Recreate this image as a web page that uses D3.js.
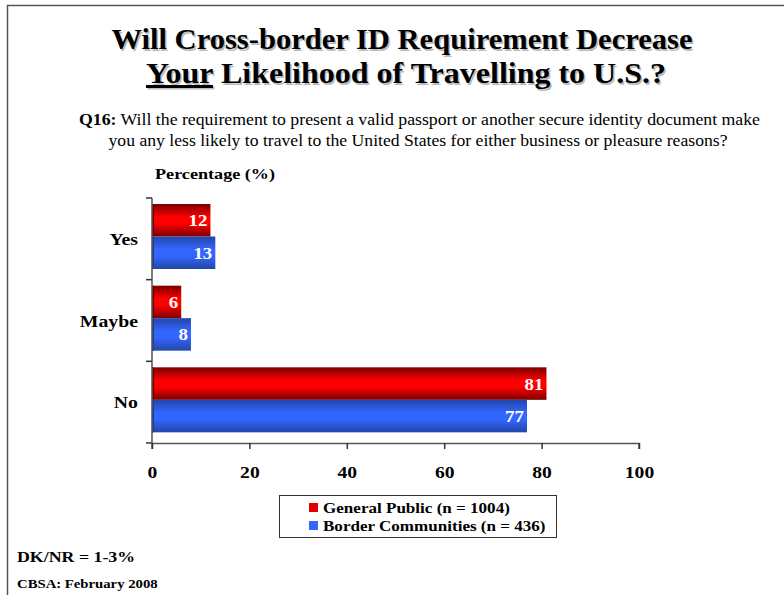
<!DOCTYPE html>
<html>
<head>
<meta charset="utf-8">
<script src="https://cdn.jsdelivr.net/npm/d3@7"></script>
<style>
  body { margin: 0; background: #fff; }
  svg { font-family: "Liberation Serif", "Times New Roman", serif; }
</style>
</head>
<body>
<div id="chart"></div>
<script>
const categories = ['Yes', 'Maybe', 'No']
const seriesNames = ['General Public (n = 1004)', 'Border Communities (n = 436)']
const generalPublic = [12, 6, 81]
const borderCommunities = [13, 8, 77]
const xTicks = [0, 20, 40, 60, 80, 100]

const width = 784
const height = 595

const svg = d3.select('#chart')
  .append('svg')
  .attr('width', width)
  .attr('height', height)

// the original is a slightly widened Times, so stretch text sideways
const stretch = (sel, k) => {
  sel.each(function () {
    const len = this.getComputedTextLength()
    d3.select(this).attr('textLength', len * k).attr('lengthAdjust', 'spacingAndGlyphs')
  })
}

// gradients for the bars
const defs = svg.append('defs')
const grad = (id, edge, mid) => {
  const g = defs.append('linearGradient')
    .attr('id', id)
    .attr('x1', 0).attr('y1', 0).attr('x2', 0).attr('y2', 1)
  g.append('stop').attr('offset', '0%').attr('stop-color', edge)
  g.append('stop').attr('offset', '40%').attr('stop-color', mid)
  g.append('stop').attr('offset', '60%').attr('stop-color', mid)
  g.append('stop').attr('offset', '100%').attr('stop-color', edge)
}
grad('redGrad', '#7a0000', '#ff0000')
grad('blueGrad', '#2346a8', '#3366ff')

// page frame
svg.append('path')
  .attr('d', `M7.5,${height} V5.5 H${width}`)
  .attr('fill', 'none')
  .attr('stroke', '#555')
  .attr('stroke-width', 1.5)

// title (with a faint shadow)
const drawTitle = (dx, dy, color) => {
  const g = svg.append('g').attr('transform', `translate(${dx},${dy})`).attr('fill', color)
  const l1 = g.append('text')
    .attr('x', 402).attr('y', 49)
    .attr('text-anchor', 'middle')
    .attr('font-weight', 'bold')
    .attr('font-size', 30)
    .text('Will Cross-border ID Requirement Decrease')
  const l2 = g.append('text')
    .attr('x', 406).attr('y', 83)
    .attr('text-anchor', 'middle')
    .attr('font-weight', 'bold')
    .attr('font-size', 30)
  l2.append('tspan').attr('text-decoration', 'underline').text('Your')
  l2.append('tspan').text(' Likelihood of Travelling to U.S.?')
  l1.attr('textLength', 581).attr('lengthAdjust', 'spacingAndGlyphs')
  l2.attr('textLength', 520).attr('lengthAdjust', 'spacingAndGlyphs')
}
drawTitle(1.5, 1.5, '#bbb')
drawTitle(0, 0, '#000')

// question text
const q = svg.append('text').attr('x', 79).attr('y', 125).attr('font-size', 16)
q.append('tspan').attr('font-weight', 'bold').text('Q16:')
q.append('tspan').text(' Will the requirement to present a valid passport or another secure identity document make')
q.attr('textLength', 681).attr('lengthAdjust', 'spacingAndGlyphs')
svg.append('text')
  .attr('x', 418).attr('y', 146)
  .attr('text-anchor', 'middle')
  .attr('font-size', 16)
  .text('you any less likely to travel to the United States for either business or pleasure reasons?')
  .attr('textLength', 619).attr('lengthAdjust', 'spacingAndGlyphs')

svg.append('text')
  .attr('x', 155).attr('y', 179)
  .attr('font-size', 15.5)
  .attr('font-weight', 'bold')
  .text('Percentage (%)')
  .call(stretch, 1.17)

// scales
const x = d3.scaleLinear().domain([0, 100]).range([152, 639])
const y = d3.scaleBand().domain(categories).range([198, 443])

const barH = 32.5
const barTop = 6

const plot = svg.append('g')

const series = [
  { values: generalPublic, fill: 'url(#redGrad)', edge: '#7a0000', swatch: '#e00000' },
  { values: borderCommunities, fill: 'url(#blueGrad)', edge: '#1f3d99', swatch: '#3366ff' }
]

series.forEach((s, si) => {
  const g = plot.append('g')
  const data = categories.map((c, i) => ({ cat: c, v: s.values[i] }))
  g.selectAll('rect')
    .data(data)
    .enter()
    .append('rect')
    .attr('x', x(0))
    .attr('y', d => y(d.cat) + barTop + si * barH)
    .attr('width', d => x(d.v) - x(0))
    .attr('height', barH)
    .attr('fill', s.fill)
  g.selectAll('line.edge')
    .data(data)
    .enter()
    .append('line')
    .attr('class', 'edge')
    .attr('x1', x(0) + 1).attr('x2', x(0) + 1)
    .attr('y1', d => y(d.cat) + barTop + si * barH)
    .attr('y2', d => y(d.cat) + barTop + (si + 1) * barH)
    .attr('stroke', s.edge)
    .attr('stroke-width', 2)
  g.selectAll('text')
    .data(data)
    .enter()
    .append('text')
    .attr('x', d => x(d.v) - 3)
    .attr('y', d => y(d.cat) + barTop + si * barH + barH / 2 + 6)
    .attr('text-anchor', 'end')
    .attr('font-size', 17.5)
    .attr('font-weight', 'bold')
    .attr('fill', '#fff')
    .text(d => d.v)
    .call(stretch, 1.08)
})

// y axis
const yAxis = svg.append('g')
yAxis.append('line')
  .attr('x1', x(0)).attr('x2', x(0))
  .attr('y1', 198).attr('y2', 443)
  .attr('stroke', '#555').attr('stroke-width', 1.5)
yAxis.selectAll('line.tick')
  .data([198].concat(categories.map(c => y(c) + y.bandwidth())))
  .enter()
  .append('line')
  .attr('class', 'tick')
  .attr('x1', x(0) - 6).attr('x2', x(0))
  .attr('y1', d => d).attr('y2', d => d)
  .attr('stroke', '#333').attr('stroke-width', 1.5)
yAxis.selectAll('text')
  .data(categories)
  .enter()
  .append('text')
  .attr('x', 138)
  .attr('y', d => y(d) + 47)
  .attr('text-anchor', 'end')
  .attr('font-size', 17.5)
  .attr('font-weight', 'bold')
  .text(d => d)
  .call(stretch, 1.13)

// x axis
const xAxis = svg.append('g').attr('transform', 'translate(0,443)')
  .call(d3.axisBottom(x).tickValues(xTicks).tickSize(6).tickPadding(17).tickFormat(d3.format('d')))
xAxis.select('.domain').attr('stroke', '#555').attr('stroke-width', 1.5).attr('d', `M${x(0)},6V0.5H${x(100)}V6`)
xAxis.selectAll('.tick line').attr('stroke', '#333').attr('stroke-width', 1.5)
xAxis.selectAll('.tick text')
  .attr('font-family', '"Liberation Serif", serif')
  .attr('font-size', 17.5)
  .attr('font-weight', 'bold')
  .attr('fill', '#000')
  .call(stretch, 1.12)

// legend
const legend = svg.append('g')
legend.append('rect')
  .attr('x', 279.5).attr('y', 495.5)
  .attr('width', 277).attr('height', 42)
  .attr('fill', '#fff')
  .attr('stroke', '#333')
legend.selectAll('rect.sw')
  .data(series)
  .enter()
  .append('rect')
  .attr('class', 'sw')
  .attr('x', 309)
  .attr('y', (d, i) => 503 + i * 18)
  .attr('width', 9).attr('height', 9)
  .attr('fill', d => d.swatch)
legend.selectAll('text')
  .data(seriesNames)
  .enter()
  .append('text')
  .attr('x', 323)
  .attr('y', (d, i) => 513 + i * 18)
  .attr('font-size', 15.5)
  .attr('font-weight', 'bold')
  .text(d => d)
  .call(stretch, 1.1)

// footnotes
svg.append('text')
  .attr('x', 17).attr('y', 562)
  .attr('font-size', 15.5)
  .attr('font-weight', 'bold')
  .text('DK/NR = 1-3%')
  .call(stretch, 1.15)
svg.append('text')
  .attr('x', 17).attr('y', 588)
  .attr('font-size', 13.5)
  .attr('font-weight', 'bold')
  .text('CBSA: February 2008')
  .call(stretch, 1.09)
</script>
</body>
</html>
